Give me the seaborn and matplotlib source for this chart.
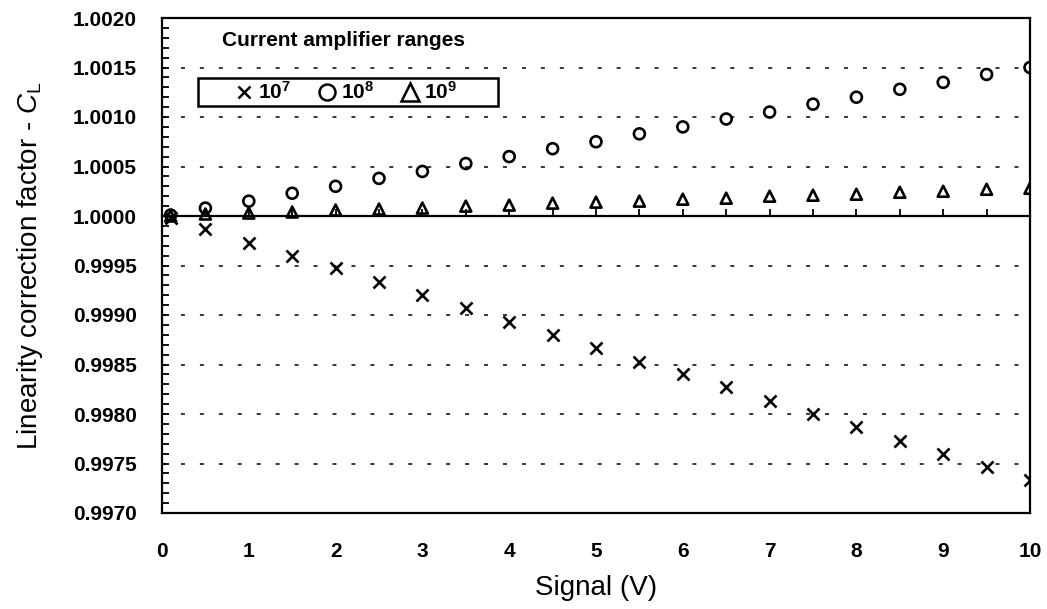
import numpy as np
import pandas as pd
import matplotlib
matplotlib.use("Agg")
import matplotlib.pyplot as plt
from matplotlib.lines import Line2D
from matplotlib.patches import Rectangle
from matplotlib.ticker import MultipleLocator, FormatStrFormatter
import seaborn as sns

# Signal voltages and linearity correction factors for each amplifier range
signal = [0.1, 0.5, 1.0, 1.5, 2.0, 2.5, 3.0, 3.5, 4.0, 4.5, 5.0,
          5.5, 6.0, 6.5, 7.0, 7.5, 8.0, 8.5, 9.0, 9.5, 10.0]
cl_1e7 = [0.99998, 0.99987, 0.99973, 0.99960, 0.99947, 0.99933, 0.99920,
          0.99907, 0.99893, 0.99880, 0.99867, 0.99853, 0.99840, 0.99827,
          0.99813, 0.99800, 0.99787, 0.99773, 0.99760, 0.99746, 0.99733]
cl_1e8 = [1.00001, 1.00008, 1.00015, 1.00023, 1.00030, 1.00038, 1.00045,
          1.00053, 1.00060, 1.00068, 1.00075, 1.00083, 1.00090, 1.00098,
          1.00105, 1.00113, 1.00120, 1.00128, 1.00135, 1.00143, 1.00150]
cl_1e9 = [1.00000, 1.00002, 1.00003, 1.00004, 1.00006, 1.00007, 1.00008,
          1.00010, 1.00011, 1.00013, 1.00014, 1.00015, 1.00017, 1.00018,
          1.00020, 1.00021, 1.00022, 1.00024, 1.00025, 1.00027, 1.00028]
range_labels = [r"$\mathbf{10^7}$", r"$\mathbf{10^8}$", r"$\mathbf{10^9}$"]
x_ticks = [0, 1, 2, 3, 4, 5, 6, 7, 8, 9, 10]
y_min, y_max, y_ref = 0.9970, 1.0020, 1.0000

sns.set_theme(style="white")
plt.rcParams["font.family"] = ["Liberation Sans", "DejaVu Sans"]
plt.rcParams["mathtext.fontset"] = "custom"
plt.rcParams["mathtext.rm"] = "Liberation Sans"
plt.rcParams["mathtext.it"] = "Liberation Sans:italic"
plt.rcParams["mathtext.bf"] = "Liberation Sans:bold"
plt.rcParams["text.color"] = "black"
plt.rcParams["axes.labelcolor"] = "black"
plt.rcParams["xtick.color"] = "black"
plt.rcParams["ytick.color"] = "black"

df = pd.DataFrame({"signal": signal, "r7": cl_1e7, "r8": cl_1e8, "r9": cl_1e9})

W, H = 1047, 609
fig = plt.figure(figsize=(W / 100, H / 100), dpi=100)
ax = fig.add_axes([162 / W, 1 - 513 / H, 868 / W, 495 / H])

# dotted reference grid at the major y ticks
ax.set_xlim(0, 10)
ax.set_ylim(y_min, y_max)
ax.yaxis.set_major_locator(MultipleLocator(0.0005))
ax.yaxis.set_minor_locator(MultipleLocator(0.0001))
ax.yaxis.set_major_formatter(FormatStrFormatter("%.4f"))
ax.set_xticks(x_ticks)
ax.yaxis.grid(True, which="major", color="black", linewidth=1.1,
              linestyle=(0, (2.6, 9.8)))
ax.xaxis.grid(False)
ax.set_axisbelow(True)

mk_lw = 1.9
sns.scatterplot(data=df, x="signal", y="r7", marker="x", s=75, color="black",
                linewidth=mk_lw, ax=ax, zorder=3)
sns.scatterplot(data=df, x="signal", y="r8", marker="o", s=62,
                facecolor="none", edgecolor="black", linewidth=mk_lw, ax=ax, zorder=3)
sns.scatterplot(data=df, x="signal", y="r9", marker="^", s=62,
                facecolor="none", edgecolor="black", linewidth=mk_lw, ax=ax, zorder=3)

for side in ["left", "right", "top", "bottom"]:
    ax.spines[side].set_visible(True)
    ax.spines[side].set_color("black")
    ax.spines[side].set_linewidth(1.6)

ax.tick_params(axis="y", which="both", direction="in", left=True, length=5,
               width=1.3, color="black", labelsize=15, pad=18)
ax.tick_params(axis="x", which="both", bottom=False, labelsize=15, pad=15)
for lab in ax.get_xticklabels() + ax.get_yticklabels():
    lab.set_fontweight("bold")

# horizontal axis crossing at C_L = 1, ticked every half volt
ref_frac = (y_ref - y_min) / (y_max - y_min)
sec = ax.secondary_xaxis(ref_frac)
sec.spines["top"].set_linewidth(1.6)
sec.spines["top"].set_color("black")
sec.set_xticks(np.arange(0, 10.01, 0.5))
sec.tick_params(axis="x", direction="out", length=5, width=1.3,
                color="black", labeltop=False, labelbottom=False)

ax.set_xlabel("Signal (V)", fontsize=20, labelpad=10)
ax.set_ylabel(r"Linearity correction factor - $\it{C}_\mathrm{L}$",
              fontsize=20, labelpad=20)

# legend for the current amplifier ranges
fig.text(222 / W, 1 - 40 / H, "Current amplifier ranges", fontsize=15,
         fontweight="bold", va="center", ha="left")
handles = [
    Line2D([], [], marker="x", linestyle="none", color="black",
           markersize=8, markeredgewidth=1.8),
    Line2D([], [], marker="o", linestyle="none", markerfacecolor="none",
           markeredgecolor="black", markersize=11.5, markeredgewidth=1.8),
    Line2D([], [], marker="^", linestyle="none", markerfacecolor="none",
           markeredgecolor="black", markersize=13, markeredgewidth=1.8),
]
leg = ax.legend(handles, range_labels, ncol=3, mode="expand", loc="center",
                bbox_to_anchor=(236 / W, 1 - 106 / H, 221 / W, 28 / H),
                bbox_transform=fig.transFigure, borderaxespad=0,
                frameon=False, prop={"size": 15, "weight": "bold"},
                handlelength=0.8, handletextpad=0.25, borderpad=0)
fig.add_artist(Rectangle((198 / W, 1 - 106 / H), 300 / W, 28 / H,
                         transform=fig.transFigure, fill=True,
                         facecolor="none", edgecolor="black", linewidth=1.8))

fig.savefig("out.png", dpi=100, facecolor="white")
